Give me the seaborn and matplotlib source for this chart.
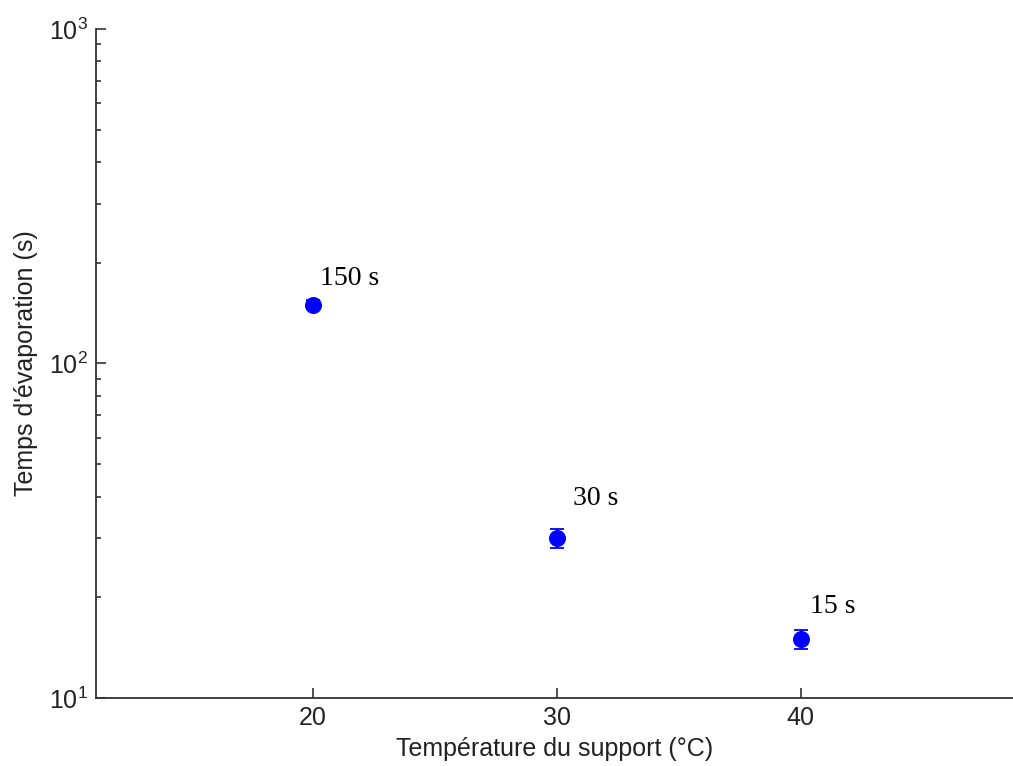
import matplotlib
matplotlib.use("Agg")
import matplotlib.pyplot as plt
import matplotlib.ticker as mticker
import seaborn as sns
import pandas as pd

# data
temperature = [20, 30, 40]          # °C
evap_time = [150, 30, 15]           # s
evap_err = [5, 2, 1]                # s
labels = ["150 s", "30 s", "15 s"]

# label offsets in points (style, not data)
label_offsets = [(5, 14), (11.5, 24), (6.5, 19)]

sns.set_style("ticks")
plt.rcParams["font.family"] = ["Liberation Sans", "DejaVu Sans"]
plt.rcParams["mathtext.default"] = "regular"

df = pd.DataFrame({"temp": temperature, "time": evap_time, "err": evap_err})

fig = plt.figure(figsize=(10.13, 7.66), dpi=100)
ax = fig.add_axes([0.0948, 0.0888, 0.905, 0.8734])

ax.errorbar(df["temp"], df["time"], yerr=df["err"], fmt="none",
            ecolor="#0000ff", elinewidth=1.3, capsize=5, capthick=1.3, zorder=3)
sns.scatterplot(data=df, x="temp", y="time", ax=ax, color="#0000ff",
                s=150, edgecolor="#0000ff", linewidth=0, zorder=4, legend=False)

for x, y, lab, off in zip(temperature, evap_time, labels, label_offsets):
    ax.annotate(lab, (x, y), xytext=off, textcoords="offset points",
                fontsize=20, family=["Liberation Serif", "DejaVu Serif"],
                color="black", ha="left", va="baseline")

ax.set_yscale("log")
ax.set_ylim(10, 1000)
ax.set_xlim(11.1, 48.7)
ax.set_xticks([20, 30, 40])
ax.yaxis.set_major_locator(mticker.LogLocator(base=10, numticks=5))
ax.yaxis.set_minor_locator(mticker.LogLocator(base=10, subs=range(2, 10), numticks=20))
ax.yaxis.set_minor_formatter(mticker.NullFormatter())

ax.tick_params(axis="both", which="major", direction="in", length=7,
               width=1.2, labelsize=18, pad=6, colors="#333333", labelcolor="#222222")
ax.tick_params(axis="y", which="minor", direction="in", length=3.5,
               width=1.2, colors="#333333")
ax.tick_params(axis="x", which="minor", bottom=False)

for side in ["top", "right"]:
    ax.spines[side].set_visible(False)
for side in ["left", "bottom"]:
    ax.spines[side].set_linewidth(1.3)
    ax.spines[side].set_color("#333333")

ax.set_xlabel("Température du support (°C)", fontsize=18, color="#222222", labelpad=5)
ax.set_ylabel("Temps d'évaporation (s)", fontsize=18, color="#222222", labelpad=8)

fig.savefig("out.png", dpi=100)
